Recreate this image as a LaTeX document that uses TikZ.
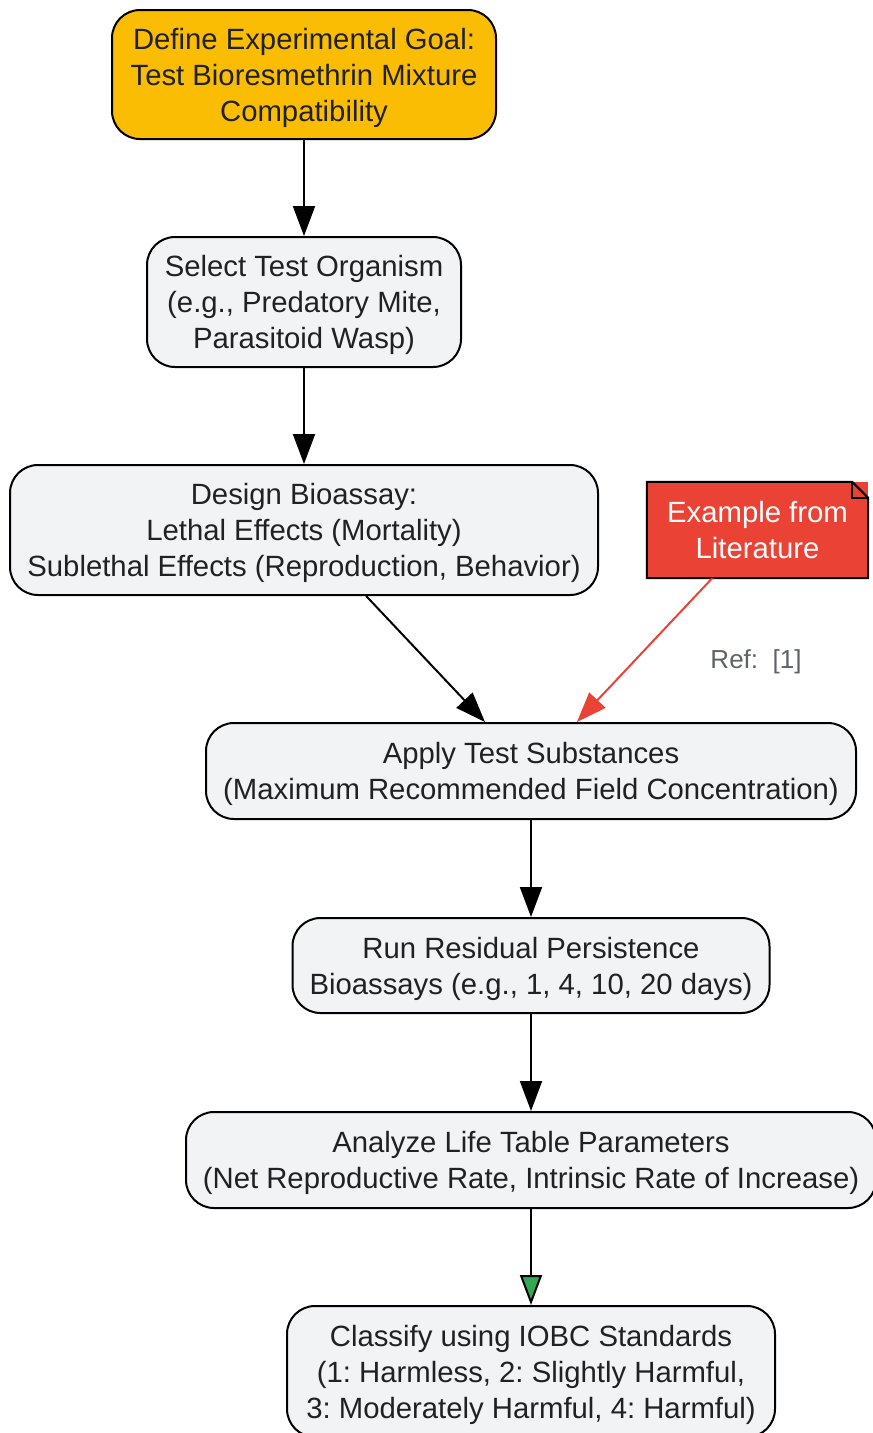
\documentclass[tikz,border=0pt]{standalone}
\usepackage{fontspec}
\setmainfont{Liberation Sans}
\usetikzlibrary{arrows.meta}
\definecolor{goldfill}{HTML}{FBBC04}
\definecolor{boxgray}{HTML}{F1F3F4}
\definecolor{notered}{HTML}{EA4335}
\definecolor{tipgreen}{HTML}{34A853}
\definecolor{textdark}{HTML}{202124}
\definecolor{labelgray}{HTML}{5F6368}
\frenchspacing
\newcommand{\firststrut}{\rule{0pt}{27.5pt}}
\begin{document}
\begin{tikzpicture}[x=1pt,y=-1pt,
  stepbox/.style={draw=black, line width=2pt, rounded corners=28pt, fill=boxgray,
    text=textdark, align=center, inner sep=0pt, font=\fontsize{29.3}{36}\selectfont},
  notebox/.style={fill=notered, text=white, align=center, inner sep=0pt,
    font=\fontsize{29.3}{36}\selectfont},
  flow/.style={line width=2pt, draw=black, -{Triangle[length=30pt,width=22pt]}},
  refflow/.style={line width=2pt, draw=notered, -{Triangle[length=30pt,width=22pt]}},
  greenflow/.style={line width=2pt, draw=black, -{Triangle[length=30pt,width=22pt,fill=tipgreen,line width=2pt]}},
  reflabel/.style={text=labelgray, font=\fontsize{26}{30}\selectfont, inner sep=0pt}
]
\useasboundingbox (0,0) rectangle (873,1433);
\fill[white] (0,0) rectangle (873,1433);

\node[stepbox, fill=goldfill, minimum width=384pt, minimum height=129pt] (goal) at (304,74.5)
  {\firststrut Define Experimental Goal:\\Test Bioresmethrin Mixture\\Compatibility};
\node[stepbox, minimum width=314pt, minimum height=130pt] (select) at (304,302)
  {\firststrut Select Test Organism\\(e.g., Predatory Mite,\\Parasitoid Wasp)};
\node[stepbox, minimum width=588pt, minimum height=130pt] (design) at (304,530)
  {\firststrut Design Bioassay:\\Lethal Effects (Mortality)\\Sublethal Effects (Reproduction, Behavior)};
\node[notebox, minimum width=221pt, minimum height=96pt] (note) at (757.5,530)
  {Example from\\Literature};
\draw[line width=2pt, line join=miter]
  (note.north west) -- ([xshift=-16pt]note.north east) -- ([yshift=-16pt]note.north east)
  -- (note.south east) -- (note.south west) -- cycle;
\draw[line width=2pt]
  ([xshift=-16pt]note.north east) -- ([xshift=-16pt,yshift=-16pt]note.north east)
  -- ([yshift=-16pt]note.north east);
\node[stepbox, minimum width=650pt, minimum height=96pt] (apply) at (531,771)
  {\firststrut Apply Test Substances\\(Maximum Recommended Field Concentration)};
\node[stepbox, minimum width=477pt, minimum height=95pt] (run) at (531,965.5)
  {\firststrut Run Residual Persistence\\Bioassays (e.g., 1, 4, 10, 20 days)};
\node[stepbox, minimum width=690pt, minimum height=96pt] (analyze) at (531,1160)
  {\firststrut Analyze Life Table Parameters\\(Net Reproductive Rate, Intrinsic Rate of Increase)};
\node[stepbox, minimum width=488pt, minimum height=131pt] (classify) at (531,1371.5)
  {\firststrut Classify using IOBC Standards\\(1: Harmless, 2: Slightly Harmful,\\3: Moderately Harmful, 4: Harmful)};

\draw[flow] (goal) -- (select);
\draw[flow] (select) -- (design);
\draw[flow] (design) -- (apply);
\draw[refflow] (note) -- (apply);
\node[reflabel] (ref) at (756,661.5) {Ref:\ \ [1]};
\draw[flow] (apply) -- (run);
\draw[flow] (run) -- (analyze);
\draw[greenflow] (analyze) -- (classify);
\end{tikzpicture}
\end{document}
